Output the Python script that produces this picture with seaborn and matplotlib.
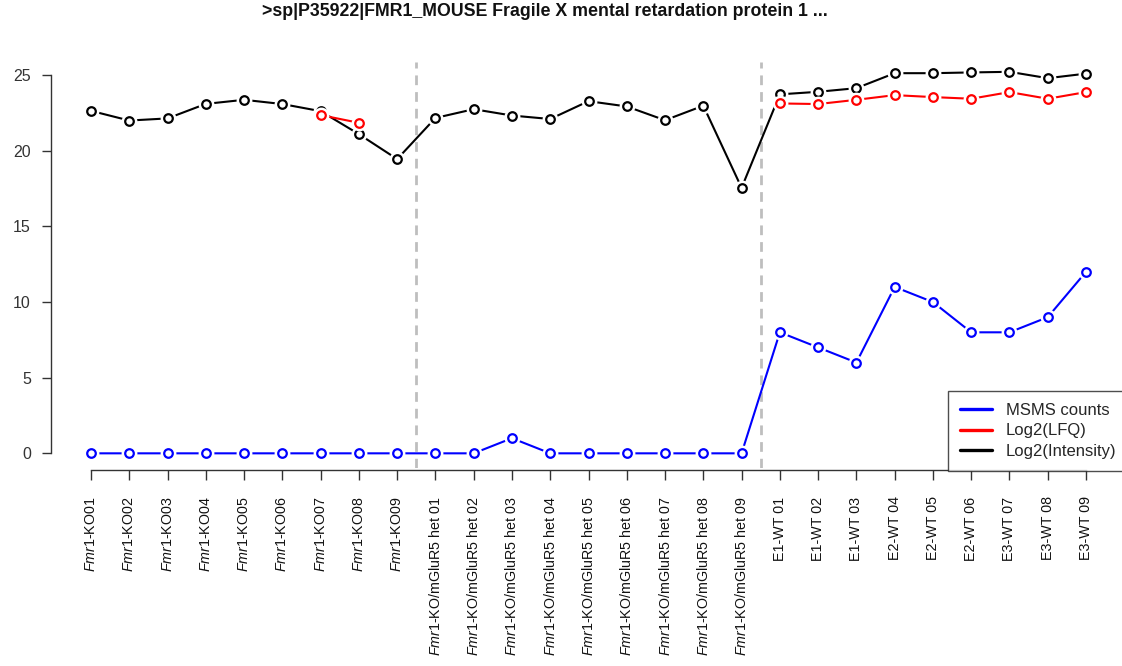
import numpy as np
import pandas as pd
import matplotlib
matplotlib.use("Agg")
import matplotlib.pyplot as plt
from matplotlib.lines import Line2D
import seaborn as sns

# Sample names (the Fmr1 gene symbol is italic)
samples = [
    r"$\mathit{Fmr1}$-KO01", r"$\mathit{Fmr1}$-KO02", r"$\mathit{Fmr1}$-KO03",
    r"$\mathit{Fmr1}$-KO04", r"$\mathit{Fmr1}$-KO05", r"$\mathit{Fmr1}$-KO06",
    r"$\mathit{Fmr1}$-KO07", r"$\mathit{Fmr1}$-KO08", r"$\mathit{Fmr1}$-KO09",
    r"$\mathit{Fmr1}$-KO/mGluR5 het 01", r"$\mathit{Fmr1}$-KO/mGluR5 het 02",
    r"$\mathit{Fmr1}$-KO/mGluR5 het 03", r"$\mathit{Fmr1}$-KO/mGluR5 het 04",
    r"$\mathit{Fmr1}$-KO/mGluR5 het 05", r"$\mathit{Fmr1}$-KO/mGluR5 het 06",
    r"$\mathit{Fmr1}$-KO/mGluR5 het 07", r"$\mathit{Fmr1}$-KO/mGluR5 het 08",
    r"$\mathit{Fmr1}$-KO/mGluR5 het 09",
    "E1-WT 01", "E1-WT 02", "E1-WT 03", "E2-WT 04", "E2-WT 05", "E2-WT 06",
    "E3-WT 07", "E3-WT 08", "E3-WT 09",
]

msms_counts = [0, 0, 0, 0, 0, 0, 0, 0, 0,
               0, 0, 1, 0, 0, 0, 0, 0, 0,
               8, 7, 6, 11, 10, 8, 8, 9, 12]

log2_lfq = [np.nan, np.nan, np.nan, np.nan, np.nan, np.nan, 22.36, 21.85, np.nan,
            np.nan, np.nan, np.nan, np.nan, np.nan, np.nan, np.nan, np.nan, np.nan,
            23.13, 23.09, 23.37, 23.68, 23.55, 23.44, 23.88, 23.44, 23.88]

log2_intensity = [22.64, 22.00, 22.14, 23.10, 23.37, 23.09, 22.62, 21.10, 19.45,
                  22.17, 22.75, 22.33, 22.10, 23.28, 22.93, 22.02, 22.98, 17.55,
                  23.73, 23.90, 24.14, 25.13, 25.13, 25.18, 25.22, 24.80, 25.10]

group_breaks = [8.5, 17.5]

series = [
    ("MSMS counts", msms_counts, "#0000FF"),
    ("Log2(Intensity)", log2_intensity, "#000000"),
    ("Log2(LFQ)", log2_lfq, "#FF0000"),
]
legend_order = ["MSMS counts", "Log2(LFQ)", "Log2(Intensity)"]

sns.set_style("white")
plt.rcParams["font.family"] = ["Liberation Sans", "DejaVu Sans"]
plt.rcParams["mathtext.fontset"] = "custom"
plt.rcParams["mathtext.rm"] = "Liberation Sans"
plt.rcParams["mathtext.it"] = "Liberation Sans:italic"

W, H = 1122, 666
fig = plt.figure(figsize=(W / 100, H / 100), dpi=100)
left_px, right_px, top_px, bottom_px = 51, 1122, 57, 468
ax = fig.add_axes([left_px / W, 1 - bottom_px / H,
                   (right_px - left_px) / W, (bottom_px - top_px) / H])

pos = np.arange(len(samples))

for i, (name, vals, col) in enumerate(series):
    vals = np.asarray(vals, dtype=float)
    ok = ~np.isnan(vals)
    # split into contiguous runs so missing values break the line
    seg = np.cumsum(~ok)
    df = pd.DataFrame({"pos": pos[ok], "val": vals[ok], "seg": seg[ok]})
    z = 3 + i
    sns.lineplot(data=df, x="pos", y="val", units="seg", estimator=None,
                 sort=False, color=col, linewidth=1.5, ax=ax, legend=False,
                 zorder=z)
    sns.scatterplot(data=df, x="pos", y="val", s=130, color="white",
                    linewidth=0, ax=ax, legend=False, zorder=z + 0.1)
    sns.scatterplot(data=df, x="pos", y="val", s=38, facecolor="white",
                    edgecolor=col, linewidth=1.6, ax=ax, legend=False,
                    zorder=z + 0.2)

for b in group_breaks:
    ax.axvline(b, ymin=0, ymax=(bottom_px - 62) / (bottom_px - top_px),
               color="#BEBEBE", linewidth=2, dashes=(3.5, 2.5), zorder=2)

ax.set_xlim(-1.045, 26.94)
ax.set_ylim(-0.97, 26.2)
ax.set_xlabel("")
ax.set_ylabel("")

for s in ["top", "right"]:
    ax.spines[s].set_visible(False)
ax.spines["left"].set_bounds(0, 25)
ax.spines["bottom"].set_bounds(0, 26)
ax.spines["bottom"].set_position(("outward", 1.5))
for s in ["left", "bottom"]:
    ax.spines[s].set_color("#333333")
    ax.spines[s].set_linewidth(1.0)

ax.tick_params(axis="y", length=6.5, width=1, pad=8, labelsize=11.5,
               direction="out", left=True, colors="#333333")
ax.tick_params(axis="x", length=7, width=1, pad=12, labelsize=10.3,
               direction="out", bottom=True, colors="#333333",
               labelrotation=90)
ax.set_xticks(pos)
ax.set_xticklabels(samples)
ax.set_yticks([0, 5, 10, 15, 20, 25])
for t in ax.get_yticklabels():
    t.set_color("#333333")
for t in ax.get_xticklabels():
    t.set_color("#111111")
    t.set_rotation(90)
    t.set_va("top")
    t.set_ha("center")

handles = {name: Line2D([0], [0], color=col, linewidth=2.4)
           for name, _, col in series}
leg = fig.legend([handles[n] for n in legend_order], legend_order,
                 loc="upper left", bbox_to_anchor=(948 / W, 1 - 391 / H),
                 frameon=True, fancybox=False, fontsize=12, handlelength=1.9,
                 handletextpad=0.85, borderpad=0.72, labelspacing=0.32,
                 borderaxespad=0)
leg.get_frame().set_edgecolor("#222222")
leg.get_frame().set_linewidth(1.0)

fig.text(545 / W, 1 - 11 / H,
         ">sp|P35922|FMR1_MOUSE Fragile X mental retardation protein 1 ...",
         ha="center", va="center", fontsize=12.8, fontweight="bold",
         color="#111111")

fig.savefig("out.png", dpi=100, facecolor="white")
